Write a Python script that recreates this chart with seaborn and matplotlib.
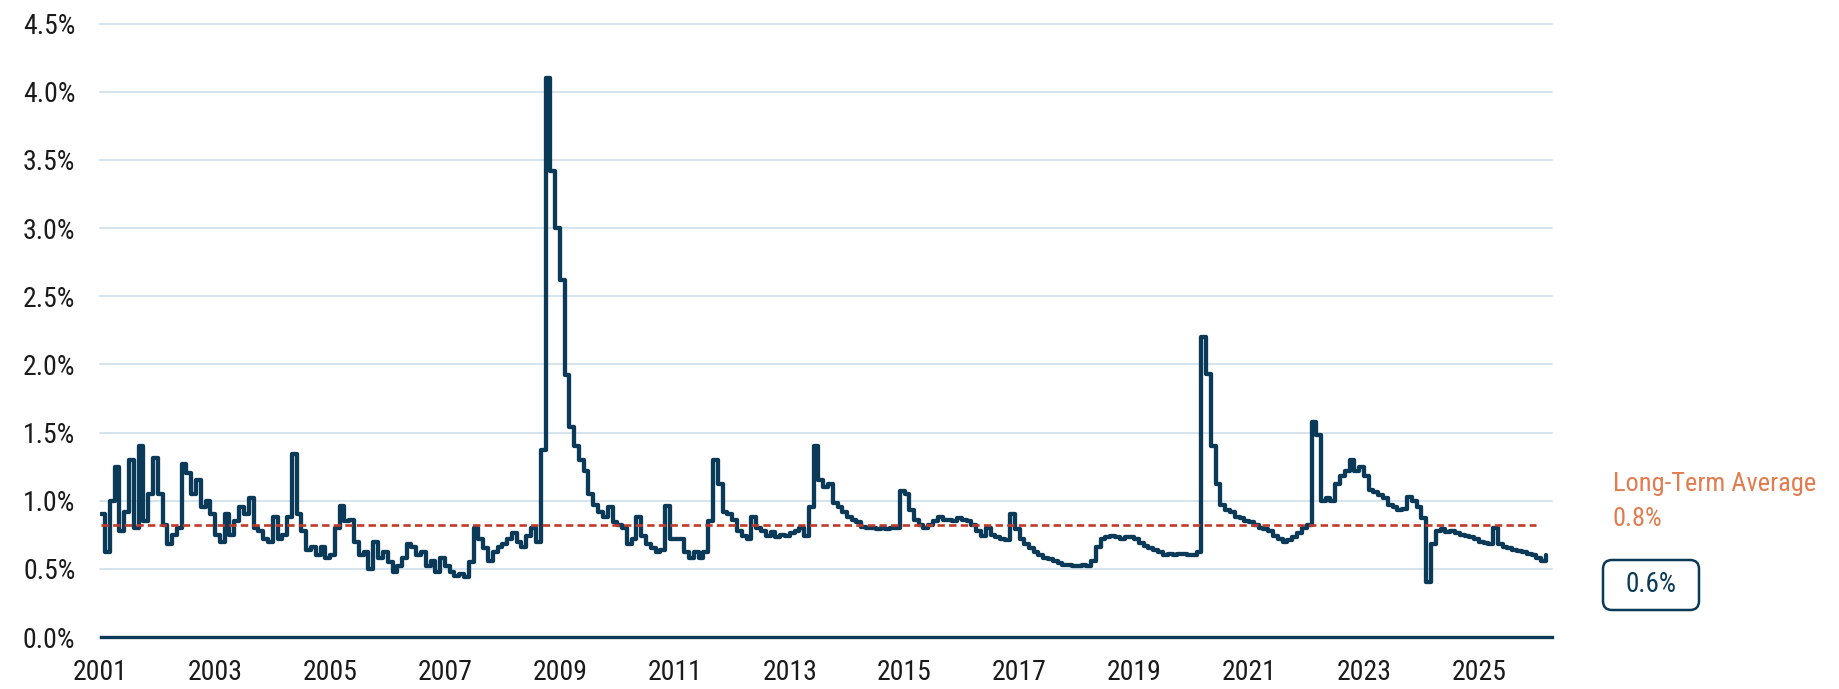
import matplotlib
matplotlib.use("Agg")
import matplotlib.pyplot as plt
from matplotlib import font_manager
from matplotlib.patches import FancyBboxPatch
from matplotlib.transforms import IdentityTransform
from matplotlib.ticker import FuncFormatter
import pandas as pd
import seaborn as sns

# ---------------- data (monthly, % values) ----------------
start_month = "2001-01-01"
values_2001 = [0.90, 0.62, 1.00, 1.25, 0.78, 0.92, 1.30, 0.80, 1.40, 0.85, 1.05, 1.31]
values_2002 = [1.05, 0.82, 0.68, 0.75, 0.80, 1.27, 1.20, 1.05, 1.15, 0.95, 1.00, 0.90]
values_2003 = [0.75, 0.70, 0.90, 0.75, 0.85, 0.95, 0.90, 1.02, 0.80, 0.78, 0.72, 0.70]
values_2004 = [0.88, 0.72, 0.75, 0.88, 1.34, 0.90, 0.78, 0.64, 0.66, 0.60, 0.66, 0.58]
values_2005 = [0.60, 0.80, 0.96, 0.85, 0.86, 0.70, 0.60, 0.62, 0.50, 0.70, 0.58, 0.62]
values_2006 = [0.55, 0.48, 0.52, 0.58, 0.68, 0.66, 0.60, 0.62, 0.52, 0.56, 0.48, 0.58]
values_2007 = [0.52, 0.48, 0.45, 0.46, 0.44, 0.55, 0.80, 0.72, 0.65, 0.56, 0.62, 0.66]
values_2008 = [0.68, 0.72, 0.76, 0.70, 0.66, 0.74, 0.80, 0.70, 1.37, 4.10, 3.42, 3.00]
values_2009 = [2.62, 1.92, 1.54, 1.40, 1.30, 1.22, 1.05, 0.97, 0.92, 0.88, 0.95, 0.84]
values_2010 = [0.82, 0.80, 0.68, 0.72, 0.88, 0.74, 0.68, 0.65, 0.62, 0.64, 0.96, 0.72]
values_2011 = [0.72, 0.72, 0.62, 0.58, 0.62, 0.58, 0.62, 0.85, 1.30, 1.12, 0.92, 0.90]
values_2012 = [0.86, 0.78, 0.74, 0.72, 0.88, 0.80, 0.78, 0.74, 0.77, 0.73, 0.75, 0.74]
values_2013 = [0.76, 0.78, 0.80, 0.74, 0.95, 1.40, 1.15, 1.10, 1.12, 0.98, 0.95, 0.92]
values_2014 = [0.88, 0.86, 0.84, 0.81, 0.80, 0.80, 0.79, 0.80, 0.79, 0.80, 0.80, 1.07]
values_2015 = [1.05, 0.93, 0.86, 0.82, 0.80, 0.82, 0.85, 0.88, 0.86, 0.86, 0.85, 0.87]
values_2016 = [0.86, 0.85, 0.82, 0.78, 0.74, 0.80, 0.75, 0.73, 0.72, 0.71, 0.90, 0.79]
values_2017 = [0.72, 0.68, 0.65, 0.62, 0.60, 0.58, 0.57, 0.56, 0.54, 0.53, 0.53, 0.52]
values_2018 = [0.52, 0.53, 0.52, 0.56, 0.66, 0.72, 0.73, 0.74, 0.73, 0.72, 0.73, 0.73]
values_2019 = [0.72, 0.69, 0.67, 0.65, 0.64, 0.62, 0.60, 0.61, 0.60, 0.61, 0.61, 0.60]
values_2020 = [0.60, 0.62, 2.20, 1.93, 1.40, 1.12, 0.97, 0.93, 0.92, 0.88, 0.87, 0.85]
values_2021 = [0.84, 0.82, 0.80, 0.79, 0.78, 0.74, 0.72, 0.70, 0.71, 0.73, 0.76, 0.80]
values_2022 = [0.82, 1.58, 1.48, 1.00, 1.02, 1.00, 1.12, 1.18, 1.22, 1.30, 1.22, 1.25]
values_2023 = [1.18, 1.08, 1.06, 1.04, 1.02, 0.97, 0.95, 0.93, 0.94, 1.03, 1.00, 0.95]
values_2024 = [0.87, 0.40, 0.68, 0.78, 0.79, 0.77, 0.78, 0.76, 0.75, 0.74, 0.73, 0.72]
values_2025 = [0.70, 0.69, 0.68, 0.80, 0.68, 0.66, 0.65, 0.64, 0.63, 0.62, 0.61, 0.60]
values_2026 = [0.58, 0.56, 0.60]

long_term_avg = 0.82
avg_start = "2001-01-01"
avg_end = "2026-01-01"
avg_title = "Long-Term Average"
avg_value_label = "0.8%"
latest_label = "0.6%"

y_ticks = [0.0, 0.5, 1.0, 1.5, 2.0, 2.5, 3.0, 3.5, 4.0, 4.5]
x_tick_years = [2001, 2003, 2005, 2007, 2009, 2011, 2013, 2015, 2017, 2019, 2021, 2023, 2025]
x_start = "2001-01-01"
x_end = "2026-04-10"

series_values = (values_2001 + values_2002 + values_2003 + values_2004 + values_2005 +
                 values_2006 + values_2007 + values_2008 + values_2009 + values_2010 +
                 values_2011 + values_2012 + values_2013 + values_2014 + values_2015 +
                 values_2016 + values_2017 + values_2018 + values_2019 + values_2020 +
                 values_2021 + values_2022 + values_2023 + values_2024 + values_2025 +
                 values_2026)
dates = pd.date_range(start_month, periods=len(series_values), freq="MS")
df = pd.DataFrame({"date": dates, "value": series_values})

# ---------------- styling ----------------
NAVY = "#0A3A58"
GRID = "#D6E4EE"
RED = "#C0392B"
ORANGE = "#E27B4E"
TICK_COLOR = "#1A1A1A"

sns.set_theme(style="white")


def pick_font():
    prefs = ["Roboto Condensed", "Liberation Sans Narrow", "Open Sans Condensed",
             "Noto Sans Condensed", "DejaVu Sans Condensed"]
    fl = font_manager.fontManager.ttflist
    for p in prefs:
        for f in fl:
            if f.name == p and f.style == "normal" and f.weight in (400, "normal", "regular"):
                return f.fname
    for f in fl:
        st = f.stretch
        is_cond = (isinstance(st, str) and "condensed" in st) or (isinstance(st, (int, float)) and st < 100)
        if is_cond and f.name in ("Roboto", "Noto Sans", "Open Sans", "Lato", "Inter", "Liberation Sans") \
                and f.style == "normal" and f.weight in (400, "normal", "regular"):
            return f.fname
    return None


fname = pick_font()
if fname:
    font_manager.fontManager.addfont(fname)
    fam = font_manager.FontProperties(fname=fname).get_name()
    plt.rcParams["font.family"] = [fam, "DejaVu Sans"]
else:
    plt.rcParams["font.family"] = ["Roboto", "DejaVu Sans"]

W, H, DPI = 1840, 689, 100
fig = plt.figure(figsize=(W / DPI, H / DPI), dpi=DPI)
ax_left, ax_right, ax_top, ax_bottom = 100.5, 1552, 23.5, 637
ax = fig.add_axes([ax_left / W, 1 - ax_bottom / H, (ax_right - ax_left) / W, (ax_bottom - ax_top) / H])

sns.lineplot(data=df, x="date", y="value", ax=ax, color=NAVY, linewidth=3.1,
             drawstyle="steps-post", estimator=None, zorder=2)

ax.plot([pd.Timestamp(avg_start), pd.Timestamp(avg_end)], [long_term_avg, long_term_avg],
        color=RED, linewidth=1.9, dashes=(2.8, 1.6), zorder=3)

ax.set_ylim(y_ticks[0], y_ticks[-1])
ax.set_xlim(pd.Timestamp(x_start), pd.Timestamp(x_end))
ax.set_yticks(y_ticks)
ax.yaxis.set_major_formatter(FuncFormatter(lambda v, _: f"{v:.1f}%"))
ax.set_xticks([pd.Timestamp(f"{y}-01-01") for y in x_tick_years])
ax.set_xticklabels([str(y) for y in x_tick_years])
ax.set_xlabel("")
ax.set_ylabel("")

ax.grid(axis="y", color=GRID, linewidth=1.4)
ax.grid(axis="x", visible=False)
for gl in ax.get_ygridlines():
    gl.set_clip_on(False)
ax.set_axisbelow(True)

for s in ["top", "right", "left"]:
    ax.spines[s].set_visible(False)
ax.spines["bottom"].set_color(NAVY)
ax.spines["bottom"].set_linewidth(2.4)
ax.spines["bottom"].set_zorder(4)

ax.tick_params(axis="both", length=0, labelsize=20, colors=TICK_COLOR)
ax.tick_params(axis="y", pad=18)
ax.tick_params(axis="x", pad=16)

# annotations
fig.text(1613 / W, 1 - 490.5 / H, avg_title, color=ORANGE, fontsize=19, ha="left", va="baseline")
fig.text(1613 / W, 1 - 526 / H, avg_value_label, color=ORANGE, fontsize=19, ha="left", va="baseline")

box = FancyBboxPatch((1603, H - 610), 96, 50, boxstyle="round,pad=0,rounding_size=9",
                     transform=IdentityTransform(), facecolor="white", edgecolor=NAVY, linewidth=1.8)
fig.add_artist(box)
fig.text(1651 / W, 1 - 585 / H, latest_label, color=NAVY, fontsize=19.5, ha="center", va="center")

fig.savefig("out.png", dpi=DPI)
